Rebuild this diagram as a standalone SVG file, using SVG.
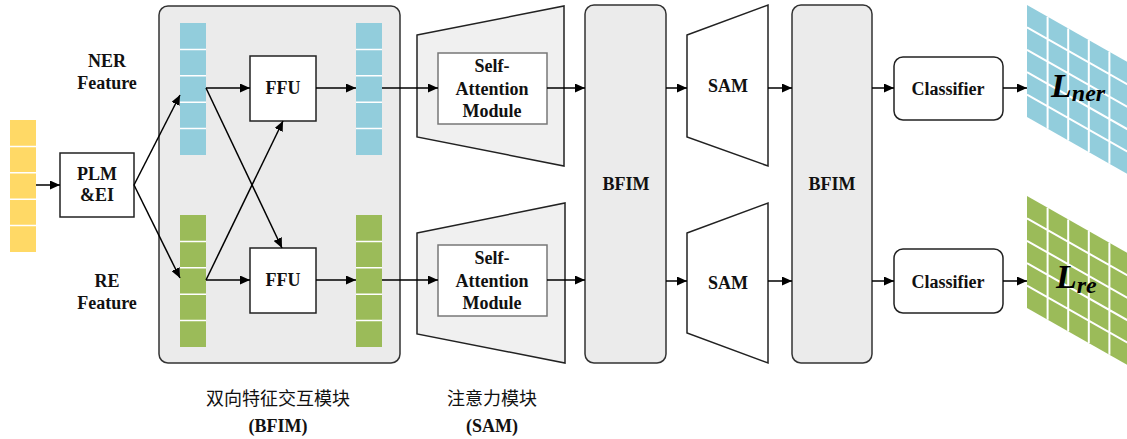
<svg xmlns="http://www.w3.org/2000/svg" width="1127" height="439" viewBox="0 0 1127 439">
<defs>
<marker id="arr" markerUnits="userSpaceOnUse" markerWidth="11" markerHeight="9" refX="10" refY="4.5" orient="auto">
<path d="M0,0 L10,4.5 L0,9 z" fill="#000"/>
</marker>
<style>
.t{font-family:"Liberation Serif","Times New Roman",serif;font-weight:bold;font-size:18px;fill:#111;text-anchor:middle}
.cn{font-family:"Noto Sans CJK SC",sans-serif;font-size:18px;fill:#111;text-anchor:middle}
.box{fill:#fff;stroke:#222;stroke-width:1.5}
.gbox{fill:#ebebeb;stroke:#333;stroke-width:1.5}
.c{stroke:#000;stroke-width:1.5;fill:none}
.ca{stroke:#000;stroke-width:1.5;fill:none;marker-end:url(#arr)}
.sep{stroke:#fff;stroke-width:1.5}
.gl{stroke:#fff;stroke-width:2}
.li{font-family:"Liberation Serif","Times New Roman",serif;font-weight:bold;font-style:italic;fill:#000}
</style>
</defs>
<rect width="1127" height="439" fill="#fff"/>

<g id="input">
<rect x="10" y="120" width="26" height="132" fill="#ffd966"/>
<path class="sep" d="M10,146.4H36M10,172.8H36M10,199.2H36M10,225.6H36"/>
</g>

<g id="plm">
<rect class="box" x="60" y="153" width="74" height="64"/>
<text class="t" x="97" y="180">PLM</text>
<text class="t" x="97" y="201">&amp;EI</text>
</g>

<g id="ner-label"><text class="t" x="107" y="67">NER</text><text class="t" x="107" y="89">Feature</text></g>
<g id="re-label"><text class="t" x="107" y="287">RE</text><text class="t" x="107" y="309">Feature</text></g>

<g id="bfim-block">
<rect class="gbox" x="159" y="6" width="241" height="357" rx="9"/>
</g>

<g id="ner-in">
<rect x="180" y="23" width="26" height="132" fill="#92cddc"/>
<path class="sep" d="M180,49.4H206M180,75.8H206M180,102.2H206M180,128.6H206"/>
</g>
<g id="ner-out">
<rect x="356" y="23" width="26" height="132" fill="#92cddc"/>
<path class="sep" d="M356,49.4H382M356,75.8H382M356,102.2H382M356,128.6H382"/>
</g>
<g id="re-in">
<rect x="180" y="215" width="26" height="132" fill="#9bbb59"/>
<path class="sep" d="M180,241.4H206M180,267.8H206M180,294.2H206M180,320.6H206"/>
</g>
<g id="re-out">
<rect x="356" y="215" width="26" height="132" fill="#9bbb59"/>
<path class="sep" d="M356,241.4H382M356,267.8H382M356,294.2H382M356,320.6H382"/>
</g>

<g id="ffu-top"><rect class="box" x="250" y="56" width="66" height="65"/><text class="t" x="283" y="94">FFU</text></g>
<g id="ffu-bottom"><rect class="box" x="250" y="248" width="66" height="65"/><text class="t" x="283" y="286">FFU</text></g>

<g id="sa-top">
<polygon points="417,35 564,6 564,166 417,137" fill="#f0f0f0" stroke="#222" stroke-width="1.5"/>
<rect x="438" y="53" width="109" height="71" fill="#fff" stroke="#777" stroke-width="1.5"/>
<text class="t" x="492" y="72">Self-</text><text class="t" x="492" y="95">Attention</text><text class="t" x="492" y="117">Module</text>
</g>
<g id="sa-bottom">
<polygon points="417,233 565,203 565,363 417,334" fill="#f0f0f0" stroke="#222" stroke-width="1.5"/>
<rect x="438" y="245" width="109" height="71" fill="#fff" stroke="#777" stroke-width="1.5"/>
<text class="t" x="492" y="264">Self-</text><text class="t" x="492" y="287">Attention</text><text class="t" x="492" y="309">Module</text>
</g>

<g id="bfim1"><rect class="gbox" x="585" y="5" width="81" height="358" rx="9"/><text class="t" x="626" y="190">BFIM</text></g>

<g id="sam-top"><polygon points="687,35 768,5 768,166 687,137" fill="#fff" stroke="#222" stroke-width="1.5"/><text class="t" x="728" y="92">SAM</text></g>
<g id="sam-bottom"><polygon points="687,233 768,203 768,363 687,333" fill="#fff" stroke="#222" stroke-width="1.5"/><text class="t" x="728" y="289">SAM</text></g>

<g id="bfim2"><rect class="gbox" x="792" y="5" width="80" height="358" rx="9"/><text class="t" x="832" y="190">BFIM</text></g>

<g id="cls-top"><rect class="box" x="894" y="57" width="109" height="63" rx="9"/><text class="t" x="948" y="95">Classifier</text></g>
<g id="cls-bottom"><rect class="box" x="894" y="249" width="109" height="64" rx="9"/><text class="t" x="948" y="288">Classifier</text></g>

<g id="loss-ner">
<polygon points="1027,5 1130,63.5 1130,175.5 1027,117" fill="#92cddc"/>
<path class="gl" d="M1047.6,16.7V128.7M1068.2,28.4V140.4M1088.8,40.1V152.1M1109.4,51.8V163.8M1027,27.4L1130,85.9M1027,49.8L1130,108.3M1027,72.2L1130,130.7M1027,94.6L1130,153.1"/>
<text class="li" x="1051" y="97" font-size="34">L<tspan font-size="24" dy="4">ner</tspan></text>
</g>
<g id="loss-re">
<polygon points="1027,196 1130,254.5 1130,366.5 1027,308" fill="#9bbb59"/>
<path class="gl" d="M1047.6,207.7V319.7M1068.2,219.4V331.4M1088.8,231.1V343.1M1109.4,242.8V354.8M1027,218.4L1130,276.9M1027,240.8L1130,299.3M1027,263.2L1130,321.7M1027,285.6L1130,344.1"/>
<text class="li" x="1056" y="288" font-size="34">L<tspan font-size="24" dy="5">re</tspan></text>
</g>

<g id="captions">
<text class="cn" x="278" y="405">双向特征交互模块</text>
<text class="t" x="278" y="432">(BFIM)</text>
<text class="cn" x="492" y="405">注意力模块</text>
<text class="t" x="492" y="432">(SAM)</text>
</g>

<g id="connectors">
<path class="ca" d="M36,185H60"/>
<path class="ca" d="M134,185L180,95"/>
<path class="ca" d="M134,185L180,278"/>
<path class="ca" d="M206,88H250"/>
<path class="ca" d="M206,280H250"/>
<path class="ca" d="M206,88L282,248"/>
<path class="ca" d="M206,280L283,121"/>
<path class="ca" d="M316,88H356"/>
<path class="ca" d="M316,280H356"/>
<path class="ca" d="M382,88H438"/>
<path class="ca" d="M382,280H438"/>
<path class="ca" d="M547,88H585"/>
<path class="ca" d="M547,280H585"/>
<path class="ca" d="M666,88H687"/>
<path class="ca" d="M666,281H687"/>
<path class="ca" d="M768,88H792"/>
<path class="ca" d="M768,281H792"/>
<path class="ca" d="M872,88H894"/>
<path class="ca" d="M872,281H894"/>
<path class="ca" d="M1003,88H1027"/>
<path class="ca" d="M1003,281H1027"/>
</g>
</svg>
